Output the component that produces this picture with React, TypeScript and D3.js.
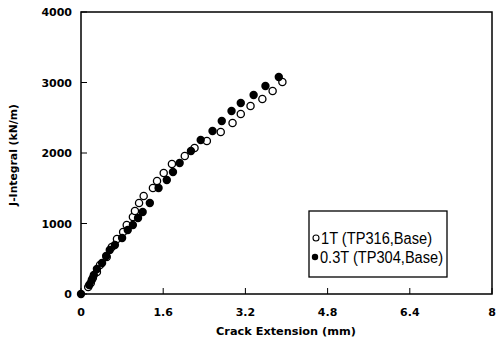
import React from "react";
import * as d3 from "d3";

const xTicks = [0, 1.6, 3.2, 4.8, 6.4, 8];
const yTicks = [0, 1000, 2000, 3000, 4000];

// 1T (TP316, Base) — open circles
const openX = [0.14, 0.19, 0.23, 0.31, 0.37, 0.5, 0.6, 0.7, 0.82, 0.89, 1.01, 1.05, 1.13, 1.22, 1.4, 1.48, 1.61, 1.77, 2.02, 2.21, 2.45, 2.72, 2.95, 3.11, 3.3, 3.53, 3.73, 3.92];
const openY = [99, 156, 227, 312, 411, 525, 667, 780, 879, 979, 1092, 1177, 1291, 1390, 1504, 1603, 1716, 1844, 1957, 2071, 2170, 2298, 2426, 2553, 2667, 2766, 2880, 3007];

// 0.3T (TP304, Base) — filled circles
const fillX = [0, 0.16, 0.21, 0.25, 0.31, 0.41, 0.49, 0.56, 0.66, 0.8, 0.91, 1.01, 1.11, 1.2, 1.34, 1.51, 1.67, 1.79, 1.92, 2.14, 2.33, 2.56, 2.74, 2.93, 3.11, 3.36, 3.59, 3.85];
const fillY = [0, 128, 199, 270, 355, 440, 539, 624, 695, 794, 908, 979, 1078, 1163, 1291, 1504, 1617, 1730, 1858, 2028, 2184, 2312, 2454, 2596, 2709, 2823, 2950, 3078];

const legendLabels = ["1T (TP316,Base)", "0.3T (TP304,Base)"];

export default function App() {
  const W = 496, H = 345;
  const x = d3.scaleLinear().domain([0, 8]).range([81, 492]);
  const y = d3.scaleLinear().domain([0, 4000]).range([294, 12]);
  const bold = { fontFamily: "DejaVu Sans", fontWeight: 700 } as const;
  return (
    <svg width={W} height={H} style={{ position: "absolute", left: 0, top: 0, background: "#fff" }}>
      <rect x={0} y={0} width={W} height={H} fill="#fff" />
      <rect x={x(0)} y={y(4000)} width={x(8) - x(0)} height={y(0) - y(4000)} fill="none" stroke="#000" strokeWidth={1.5} />
      {xTicks.map((t) => (
        <g key={"x" + t}>
          <line x1={x(t)} x2={x(t)} y1={y(0)} y2={y(0) - 6} stroke="#000" strokeWidth={1} />
          <text x={x(t)} y={316} textAnchor="middle" fontSize={11} style={bold}>{t}</text>
        </g>
      ))}
      {yTicks.map((t) => (
        <g key={"y" + t}>
          <line x1={x(0)} x2={x(0) + 6} y1={y(t)} y2={y(t)} stroke="#000" strokeWidth={1} />
          <text x={72} y={y(t) + 4} textAnchor="end" fontSize={11} style={bold}>{t}</text>
        </g>
      ))}
      <text x={286} y={335} textAnchor="middle" fontSize={11.3} style={bold}>Crack Extension (mm)</text>
      <text transform={`translate(17,155) rotate(-90)`} textAnchor="middle" fontSize={10.8} style={bold}>J-Integral (kN/m)</text>
      {openX.map((v, i) => (
        <circle key={"o" + i} cx={x(v)} cy={y(openY[i])} r={3.6} fill="#fff" stroke="#000" strokeWidth={1.3} />
      ))}
      {fillX.map((v, i) => (
        <circle key={"f" + i} cx={x(v)} cy={y(fillY[i])} r={4.2} fill="#000" />
      ))}
      <rect x={309} y={211} width={138} height={66} fill="#fff" stroke="#000" strokeWidth={1.3} />
      <circle cx={316} cy={238} r={3} fill="#fff" stroke="#000" strokeWidth={1.1} />
      <circle cx={315} cy={257} r={3.2} fill="#000" />
      <text x={321} y={244} fontSize={16} fontFamily="Liberation Sans" textLength={111} lengthAdjust="spacingAndGlyphs">{legendLabels[0]}</text>
      <text x={320} y={263} fontSize={16} fontFamily="Liberation Sans" textLength={123} lengthAdjust="spacingAndGlyphs">{legendLabels[1]}</text>
    </svg>
  );
}
